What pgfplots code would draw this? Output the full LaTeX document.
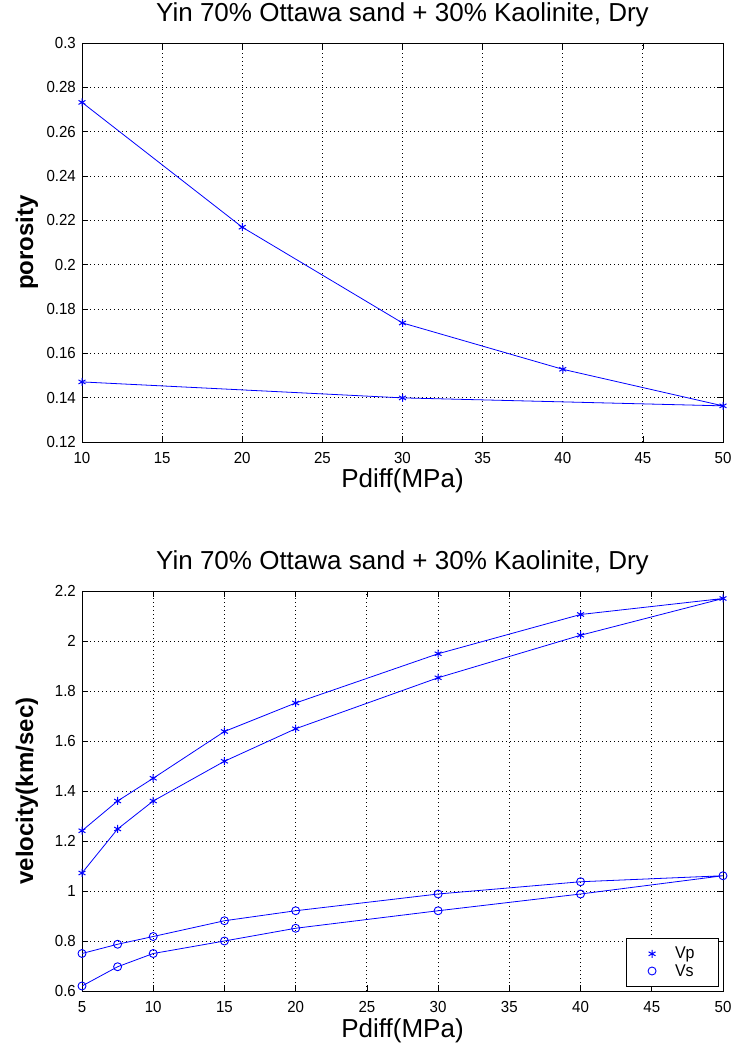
\documentclass[border=0pt]{standalone}
\usepackage{pgfplots}
\pgfplotsset{compat=1.18}
\usepackage{fontspec}
\setmainfont{Liberation Sans}
\newfontfamily\narrow[FakeStretch=0.94]{Liberation Sans}
\definecolor{mblue}{RGB}{0,0,255}
\begin{document}
\begin{tikzpicture}
\useasboundingbox (0pt,0pt) rectangle (731pt,1045pt);
\pgfplotsset{
  mstyle/.style={
    scale only axis,
    width=641pt,
    anchor=south west,
    axis line style={black, line width=0.8pt},
    tick align=inside,
    tick pos=both,
    major tick length=6pt,
    tick style={black, line width=0.6pt},
    grid=major,
    major grid style={black, dash pattern=on 1pt off 3pt, line width=0.8pt},
    /pgf/number format/assume math mode=true,
    /pgf/number format/fixed,
    /pgf/number format/precision=2,
    tick label style={font=\narrow\fontsize{16}{16}\selectfont, inner sep=0pt},
    xticklabel style={anchor=north, yshift=-10pt},
    yticklabel style={anchor=east, xshift=-6pt},
    title style={font=\fontsize{26}{26}\selectfont, at={(axis description cs:0.5,1)}, anchor=base, yshift=15pt, inner sep=0pt},
    xlabel style={font=\fontsize{26}{26}\selectfont, at={(axis description cs:0.5,0)}, anchor=base, yshift=-46pt, inner sep=0pt},
    ylabel style={font=\bfseries\fontsize{24}{24}\selectfont, at={(axis description cs:0,0.5)}, anchor=center, yshift=55pt, inner sep=0pt},
  }
}
\begin{axis}[mstyle,
  at={(82pt,603pt)}, height=399pt,
  xmin=10, xmax=50, ymin=0.12, ymax=0.3,
  xtick={10,15,...,50},
  ytick={0.12,0.14,0.16,0.18,0.2,0.22,0.24,0.26,0.28,0.3},
  title={Yin 70\% Ottawa sand + 30\% Kaolinite, Dry},
  xlabel={Pdiff(MPa)}, ylabel={porosity},
]
\addplot[mblue, line width=0.8pt, mark=asterisk, mark size=4pt, mark options={line width=1pt}] coordinates {
(10,0.2732) (20,0.2169) (30,0.1737) (40,0.1528) (50,0.1363) (30,0.1399) (10,0.1471)
};
\end{axis}
\begin{axis}[mstyle,
  at={(82pt,54pt)}, height=400pt,
  xmin=5, xmax=50, ymin=0.6, ymax=2.2,
  xtick={5,10,...,50},
  ytick={0.6,0.8,...,2.2},
  title={Yin 70\% Ottawa sand + 30\% Kaolinite, Dry},
  xlabel={Pdiff(MPa)}, ylabel={velocity(km/sec)},
  legend style={at={(axis description cs:1,0)}, anchor=south east, xshift=-4pt, yshift=4pt,
    draw=black, line width=0.8pt,
    font=\narrow\fontsize{17}{17}\selectfont, inner xsep=22pt, inner ysep=7pt,
    legend cell align=left, row sep=0pt,
    /tikz/every odd column/.append style={column sep=17pt}},
]
\addplot[mblue, line width=0.8pt, mark=asterisk, mark size=4pt, mark options={line width=1pt}, forget plot] coordinates {
(5,1.072) (7.5,1.248) (10,1.36) (15,1.519) (20,1.649) (30,1.853) (40,2.023) (50,2.17)
(40,2.106) (30,1.949) (20,1.752) (15,1.638) (10,1.451) (7.5,1.36) (5,1.241)
};
\addplot[mblue, line width=0.8pt, mark=o, mark size=4pt, mark options={line width=0.9pt}, forget plot] coordinates {
(5,0.62) (7.5,0.697) (10,0.75) (15,0.80) (20,0.851) (30,0.921) (40,0.988) (50,1.061)
(40,1.037) (30,0.988) (20,0.921) (15,0.881) (10,0.818) (7.5,0.787) (5,0.75)
};
\addlegendimage{only marks, mblue, mark=asterisk, mark size=4pt, mark options={line width=1pt}}
\addlegendentry{Vp}
\addlegendimage{only marks, mblue, mark=o, mark size=4pt, mark options={line width=0.9pt}}
\addlegendentry{Vs}
\end{axis}
\end{tikzpicture}
\end{document}
